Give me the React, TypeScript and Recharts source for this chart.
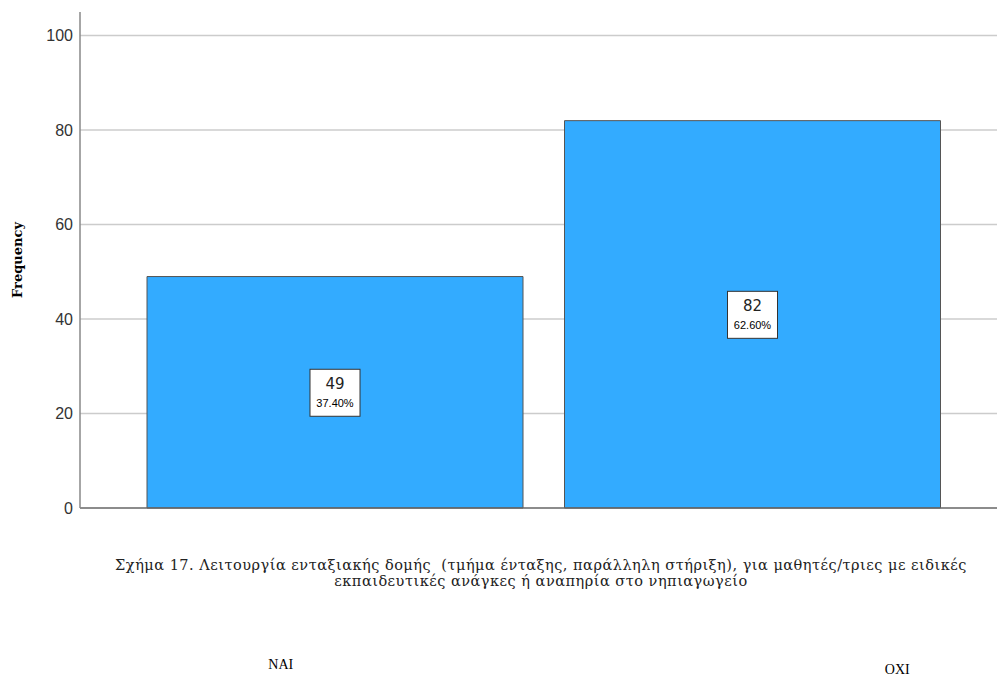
import React from 'react';
import { BarChart, Bar, XAxis, YAxis, CartesianGrid, LabelList, Label } from 'recharts';

const categories = ['NAI', 'OXI'];
const frequencies = [49, 82];
const percents = ['37.40%', '62.60%'];
const yTicks = [0, 20, 40, 60, 80, 100];
const captionLines = [
  'Σχήμα 17. Λειτουργία ενταξιακής δομής  (τμήμα ένταξης, παράλληλη στήριξη), για μαθητές/τριες με ειδικές',
  'εκπαιδευτικές ανάγκες ή αναπηρία στο νηπιαγωγείο',
];

const data = categories.map((name, i) => ({ name, count: frequencies[i], pct: percents[i] }));

// SPSS puts the category names off-centre under the bars
const tickShift = [
  { dx: -54, dy: 153 },
  { dx: 145, dy: 158 },
];

const CategoryTick = (props: any) => {
  const { x, y, payload, index } = props;
  const s = tickShift[index] || { dx: 0, dy: 0 };
  return (
    <text x={x + s.dx} y={y + s.dy} textAnchor="middle" fontFamily="'Liberation Serif', serif" fontSize={14} fill="#000">
      {payload.value}
    </text>
  );
};

const Caption = (props: any) => {
  const vb = props.viewBox || {};
  const cx = 541;
  return (
    <g>
      {captionLines.map((line, i) => (
        <text
          key={i}
          x={cx}
          y={vb.y + 62 + i * 16}
          textAnchor="middle"
          fontFamily="'DejaVu Serif', serif"
          fontSize={14.5}
          letterSpacing={0.5}
          fill="#222"
          style={{ whiteSpace: 'pre' }}
        >
          {line}
        </text>
      ))}
    </g>
  );
};

const ValueBox = (props: any) => {
  const { x, y, width, height, index } = props;
  const cx = x + width / 2;
  const cy = y + height / 2;
  return (
    <g>
      <rect x={cx - 25} y={cy - 23} width={50} height={47} fill="#fff" stroke="#333" strokeWidth={1} />
      <text x={cx} y={cy - 3} textAnchor="middle" fontFamily="'DejaVu Sans', sans-serif" fontSize={15} fill="#222">
        {frequencies[index]}
      </text>
      <text x={cx} y={cy + 15} textAnchor="middle" fontFamily="'Liberation Sans', sans-serif" fontSize={11} fill="#000">
        {percents[index]}
      </text>
    </g>
  );
};

export default function App() {
  return (
    <div style={{ position: 'absolute', left: 0, top: 0, background: '#fff' }}>
      <BarChart width={997} height={676} data={data} margin={{ top: 12, right: 0, bottom: 0, left: 0 }} barSize={376}>
        <CartesianGrid vertical={false} horizontalValues={[20, 40, 60, 80, 100]} stroke="#cccccc" strokeWidth={1.5} />
        <XAxis
          dataKey="name"
          height={168}
          padding={{ left: 46, right: 36 }}
          stroke="#666"
          strokeWidth={1.5}
          tickLine={false}
          tick={<CategoryTick />}
          label={<Caption />}
        />
        <YAxis
          width={80}
          domain={[0, 105]}
          ticks={yTicks}
          stroke="#888"
          strokeWidth={1.5}
          tickLine={false}
          tickSize={0}
          tickMargin={7}
          tick={{ fontFamily: "'Liberation Sans', sans-serif", fontSize: 16, fill: '#333' }}
        >
          <Label
            value="Frequency"
            angle={-90}
            position="insideLeft"
            offset={17}
            style={{ fontFamily: "'DejaVu Serif', serif", fontWeight: 'bold', fontSize: 13, fill: '#000', textAnchor: 'middle' }}
          />
        </YAxis>
        <Bar dataKey="count" fill="#33abff" stroke="#555" strokeWidth={1} isAnimationActive={false}>
          <LabelList dataKey="count" content={<ValueBox />} />
        </Bar>
      </BarChart>
    </div>
  );
}
